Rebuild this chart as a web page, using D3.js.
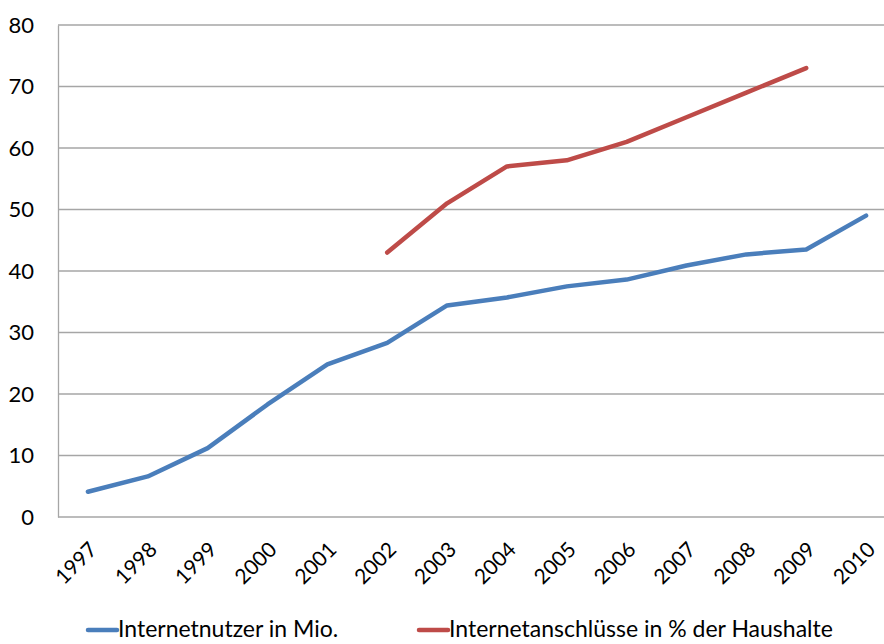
<!DOCTYPE html>
<html>
<head>
<meta charset="utf-8">
<script src="https://cdn.jsdelivr.net/npm/d3@7"></script>
<style>
  body { margin: 0; background: #fff; }
  svg text { font-family: Lato, "Open Sans", sans-serif; fill: #000; }
</style>
</head>
<body>
<svg id="canvas" width="884" height="644"></svg>
<script>
// daten
let jahre = ['1997','1998','1999','2000','2001','2002','2003','2004','2005','2006','2007','2008','2009','2010'];
let nutzer = [4.1, 6.6, 11.2, 18.3, 24.8, 28.3, 34.4, 35.7, 37.5, 38.6, 40.9, 42.7, 43.5, 49.0];
let anschluesse = [null, null, null, null, null, 43, 51, 57, 58, 61, 65, 69, 73, null];
let yTicks = [0, 10, 20, 30, 40, 50, 60, 70, 80];
let serienNamen = ['Internetnutzer in Mio.', 'Internetanschlüsse in % der Haushalte'];
let farben = ['#4A7EBB', '#BE4B48'];

let canvas = d3.select('#canvas');
let links = 58, rechts = 896, oben = 25, unten = 517;

let x = d3.scalePoint().domain(jahre).range([links, rechts]).padding(0.5);
let y = d3.scaleLinear().domain([0, 80]).range([unten, oben]);

// gitterlinien
canvas.append('g')
    .selectAll('line')
    .data(yTicks)
    .enter()
    .append('line')
    .attr('x1', links).attr('x2', rechts)
    .attr('y1', d => y(d)).attr('y2', d => y(d))
    .attr('stroke', '#a6a6a6')
    .attr('stroke-width', 1.3);

// y-achse
let yAchse = canvas.append('g')
    .attr('transform', 'translate(' + links + ',0)')
    .call(d3.axisLeft(y).tickValues(yTicks).tickSize(0).tickPadding(24));
yAchse.select('.domain').attr('stroke', '#a6a6a6').attr('stroke-width', 1.3);
yAchse.selectAll('text').style('font-size', '22px');

// x-achse
let xAchse = canvas.append('g')
    .attr('transform', 'translate(0,' + unten + ')')
    .call(d3.axisBottom(x).tickSize(0).tickPadding(0));
xAchse.select('.domain').remove();
xAchse.selectAll('text')
    .style('font-size', '21px')
    .attr('text-anchor', 'end')
    .attr('dy', null)
    .attr('y', 0)
    .attr('transform', 'translate(10,34) rotate(-45)');

// linien
let linie = d3.line()
    .defined(d => d[1] != null)
    .x(d => x(d[0]))
    .y(d => y(d[1]));

[nutzer, anschluesse].forEach((werte, i) => {
    canvas.append('path')
        .datum(jahre.map((j, k) => [j, werte[k]]))
        .attr('d', linie)
        .attr('fill', 'none')
        .attr('stroke', farben[i])
        .attr('stroke-width', 4.5)
        .attr('stroke-linejoin', 'round')
        .attr('stroke-linecap', 'round');
});

// legende
let legendeX = [88, 419];
let legende = canvas.append('g')
    .selectAll('g')
    .data(serienNamen)
    .enter()
    .append('g')
    .attr('transform', (d, i) => 'translate(' + legendeX[i] + ',630)');
legende.append('line')
    .attr('x1', 0).attr('x2', 29)
    .attr('stroke', (d, i) => farben[i])
    .attr('stroke-width', 4.5)
    .attr('stroke-linecap', 'round');
legende.append('text')
    .attr('x', 30)
    .attr('y', 7)
    .style('font-size', '23px')
    .text(d => d);
</script>
</body>
</html>
